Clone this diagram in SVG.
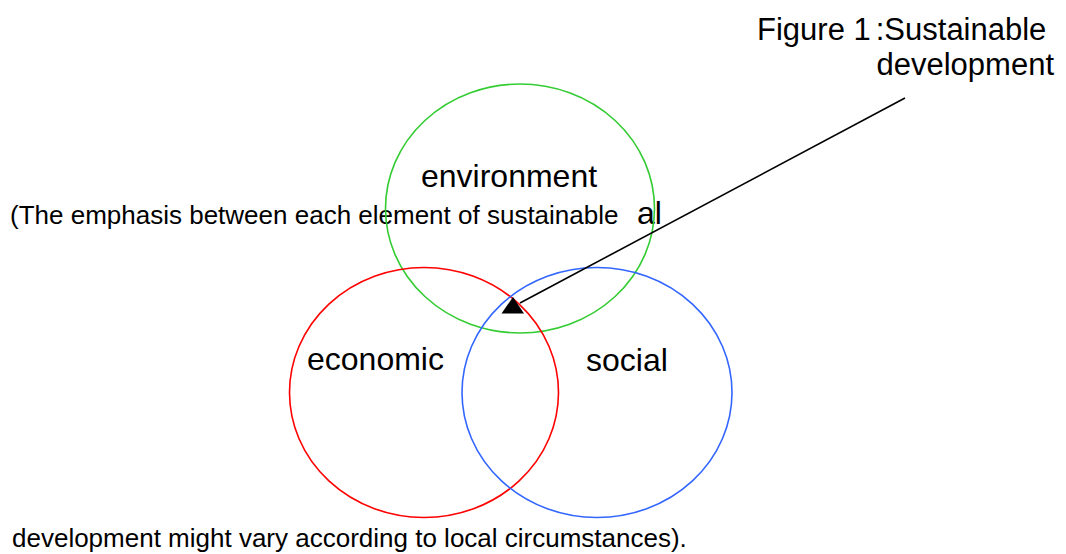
<svg xmlns="http://www.w3.org/2000/svg" width="1066" height="554" viewBox="0 0 1066 554">
<style>
.t{font-family:"Liberation Sans",Arial,sans-serif;fill:#000}
.lbl{font-size:32px}
.body{font-size:26px}
.cap{font-size:31px}
.c{fill:none;stroke-width:1.6}
</style>
<rect width="1066" height="554" fill="#fff"/>
<g id="caption">
<text class="t cap" x="757" y="40">Figure 1<tspan dx="5">:Sustainable</tspan></text>
<text class="t cap" x="1054" y="75" text-anchor="end">development</text>
</g>
<g id="note">
<text class="t body" x="10" y="224">(The emphasis between each element of sustainable</text>
<text class="t lbl" x="637" y="224">al</text>
<text class="t body" x="12" y="547">development might vary according to local circumstances).</text>
</g>
<g id="environment">
<ellipse class="c" cx="520" cy="208.5" rx="134.5" ry="124.5" stroke="#33cc33"/>
<text class="t lbl" x="421" y="187">environment</text>
</g>
<g id="economic">
<ellipse class="c" cx="424" cy="392.5" rx="134.5" ry="125" stroke="#ff0000"/>
<text class="t lbl" x="307" y="370">economic</text>
</g>
<g id="social">
<ellipse class="c" cx="597" cy="392.5" rx="135" ry="125" stroke="#3366ff"/>
<text class="t lbl" x="586" y="371">social</text>
</g>
<g id="connectors">
<line x1="905" y1="98" x2="520" y2="303" stroke="#000" stroke-width="1.6"/>
<polygon points="513,297 501.5,313.5 524,313.5" fill="#000"/>
</g>
</svg>
